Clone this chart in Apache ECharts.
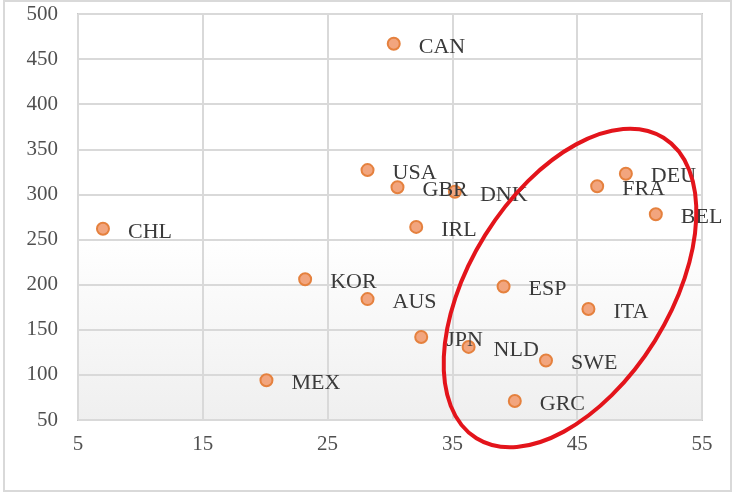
<!DOCTYPE html>
<html>
<head>
<meta charset="utf-8">
<script src="https://cdn.jsdelivr.net/npm/echarts@6/dist/echarts.min.js"></script>
<style>
  html, body { margin: 0; padding: 0; background: #fff; }
  #chart { width: 735px; height: 494px; }
</style>
</head>
<body>
<div id="chart"></div>
<script>
// country codes and their coordinates
var countries = ['CAN', 'USA', 'GBR', 'DNK', 'IRL', 'CHL', 'KOR', 'AUS', 'MEX',
                 'JPN', 'NLD', 'SWE', 'GRC', 'ESP', 'ITA', 'FRA', 'DEU', 'BEL'];
var xValues = [30.3, 28.2, 30.6, 35.2, 32.1, 7.0, 23.2, 28.2, 20.1,
               32.5, 36.3, 42.5, 40.0, 39.1, 45.9, 46.6, 48.9, 51.3];
var yValues = [467, 327, 308, 303, 264, 262, 206, 184, 94,
               142, 131, 116, 71, 198, 173, 309, 323, 278];

var points = [];
for (var i = 0; i < countries.length; i++) {
    points.push({ name: countries[i], value: [xValues[i], yValues[i]] });
}

var serif = '"Liberation Serif", "DejaVu Serif", serif';

var option = {
    animation: false,
    backgroundColor: '#fff',
    grid: {
        left: 78, right: 33, top: 14, bottom: 74,
        show: true,
        borderColor: '#c8c8c8',
        borderWidth: 2,
        backgroundColor: {
            type: 'linear', x: 0, y: 0, x2: 0, y2: 1,
            colorStops: [
                { offset: 0, color: '#ffffff' },
                { offset: 0.55, color: '#ffffff' },
                { offset: 1, color: '#efefef' }
            ]
        }
    },
    xAxis: {
        type: 'value',
        min: 5, max: 55, interval: 10,
        axisLine: { show: false },
        axisTick: { show: false },
        axisLabel: { color: '#505050', fontFamily: serif, fontSize: 21, margin: 14 },
        splitLine: { lineStyle: { color: '#d9d9d9', width: 2 } }
    },
    yAxis: {
        type: 'value',
        min: 50, max: 500, interval: 50,
        axisLine: { show: false },
        axisTick: { show: false },
        axisLabel: { color: '#505050', fontFamily: serif, fontSize: 21, margin: 20 },
        splitLine: { lineStyle: { color: '#d9d9d9', width: 2 } }
    },
    series: [{
        type: 'scatter',
        data: points,
        symbolSize: 12,
        itemStyle: { color: '#f2a57e', borderColor: '#e5813e', borderWidth: 2, opacity: 1 },
        label: {
            show: true,
            position: 'right',
            distance: 18,
            offset: [0, 3],
            formatter: '{b}',
            color: '#3a3a3a',
            fontFamily: serif,
            fontSize: 22
        }
    }],
    graphic: [
        {
            type: 'rect',
            shape: { x: 4, y: 1, width: 727, height: 490 },
            style: { fill: 'none', stroke: '#d9d9d9', lineWidth: 2 },
            silent: true
        },
        {
            // red ellipse annotation
            type: 'ellipse',
            x: 570, y: 288,
            rotation: -0.557,
            shape: { cx: 0, cy: 0, rx: 100, ry: 177 },
            style: { fill: 'none', stroke: '#e3141b', lineWidth: 4 },
            z: 100,
            silent: true
        }
    ]
};

var myChart = echarts.init(document.getElementById('chart'));
myChart.setOption(option);
</script>
</body>
</html>
